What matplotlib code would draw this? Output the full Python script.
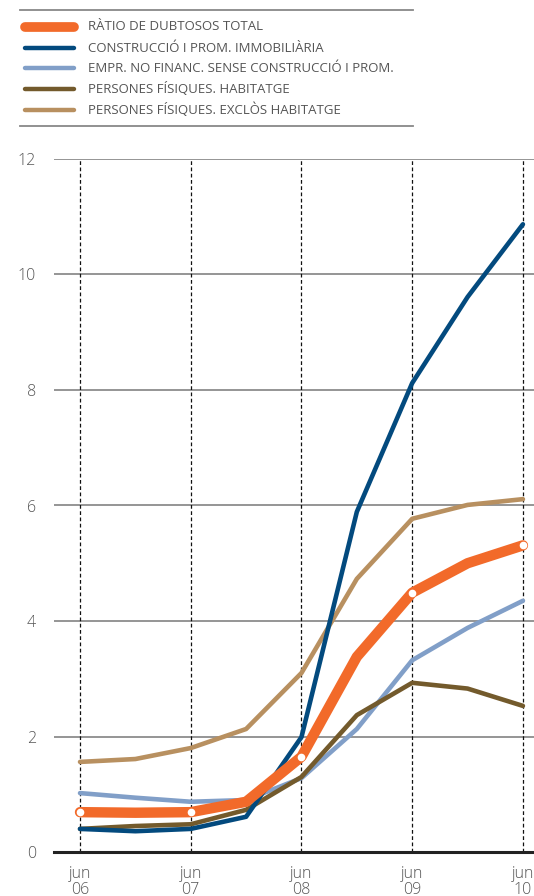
import matplotlib
matplotlib.use("Agg")
import matplotlib.pyplot as plt
from matplotlib.lines import Line2D
import numpy as np

plt.rcParams['font.family'] = ['Open Sans', 'DejaVu Sans']

# half-year observations, jun 06 .. jun 10
periods = ["jun\n06", "des\n06", "jun\n07", "des\n07", "jun\n08",
           "des\n08", "jun\n09", "des\n09", "jun\n10"]
tick_idx = [0, 2, 4, 6, 8]

total = [0.69, 0.68, 0.69, 0.87, 1.65, 3.38, 4.49, 5.00, 5.31]
construccio = [0.40, 0.36, 0.40, 0.61, 1.99, 5.89, 8.12, 9.61, 10.87]
empreses = [1.02, 0.94, 0.87, 0.90, 1.28, 2.13, 3.32, 3.88, 4.35]
habitatge = [0.40, 0.45, 0.48, 0.73, 1.30, 2.37, 2.93, 2.83, 2.53]
exclos = [1.56, 1.61, 1.80, 2.13, 3.10, 4.73, 5.77, 6.01, 6.11]

labels = ["RÀTIO DE DUBTOSOS TOTAL",
          "CONSTRUCCIÓ I PROM. IMMOBILIÀRIA",
          "EMPR. NO FINANC. SENSE CONSTRUCCIÓ I PROM.",
          "PERSONES FÍSIQUES. HABITATGE",
          "PERSONES FÍSIQUES. EXCLÒS HABITATGE"]
colors = ["#F26A2A", "#034A7E", "#819FC8", "#735A2C", "#B89060"]

fig = plt.figure(figsize=(5.34, 8.96), dpi=100)
ax = fig.add_axes([54 / 534, 44 / 896, 480 / 534, 693 / 896])

x = np.arange(len(periods))
ax.set_xlim(-0.47, 8.2)
ax.set_ylim(0, 12)

# grid
for yv in [2, 4, 6, 8, 10, 12]:
    ax.axhline(yv, color="#8c8c8c", lw=1.3, zorder=1)
ax.axhline(0, color="#222222", lw=2.2, zorder=6, clip_on=False)
for i in tick_idx:
    ax.axvline(i, color="#111111", lw=0.9, ls=(0, (3, 2)), zorder=1)

ax.plot(x, exclos, color=colors[4], lw=3.3, solid_capstyle="round", zorder=3)
ax.plot(x, empreses, color=colors[2], lw=3.3, solid_capstyle="round", zorder=3)
ax.plot(x, habitatge, color=colors[3], lw=3.3, solid_capstyle="round", zorder=4)
ax.plot(x, construccio, color=colors[1], lw=3.3, solid_capstyle="round", zorder=4)
ax.plot(x, total, color=colors[0], lw=7.5, solid_capstyle="round", zorder=5)
ax.plot(x[tick_idx], np.array(total)[tick_idx], "o", ms=5.5, mfc="white",
        mec="white", mew=0, zorder=6)

for s in ax.spines.values():
    s.set_visible(False)
ax.set_yticks([0, 2, 4, 6, 8, 10, 12])
ax.set_xticks(x[tick_idx])
ax.set_xticklabels([periods[i] for i in tick_idx])
ax.tick_params(axis="both", length=0, labelsize=11.5, colors="#555555")
ax.tick_params(axis="y", pad=13)
ax.tick_params(axis="x", pad=10)
for t in ax.get_yticklabels():
    t.set_fontweight("light")
for t in ax.get_xticklabels():
    t.set_linespacing(1.0)
    t.set_fontweight("light")

# legend
W, H = 534, 896
def fx(px):
    return px / W
def fy(py):
    return 1 - py / H

for yy in [10, 126]:
    fig.add_artist(Line2D([fx(20), fx(413)], [fy(yy), fy(yy)], color="#888888", lw=1.3))
rows = [27, 48, 68, 89, 110]
for k, (lab, col) in enumerate(zip(labels, colors)):
    lw = 7 if k == 0 else 3.2
    fig.add_artist(Line2D([fx(25), fx(74)], [fy(rows[k]), fy(rows[k])], color=col,
                          lw=lw, solid_capstyle="round"))
    fig.text(fx(88), fy(rows[k]), lab, fontsize=9.5, color="#555555", va="center",
             ha="left")

fig.savefig("out.png", dpi=100)
